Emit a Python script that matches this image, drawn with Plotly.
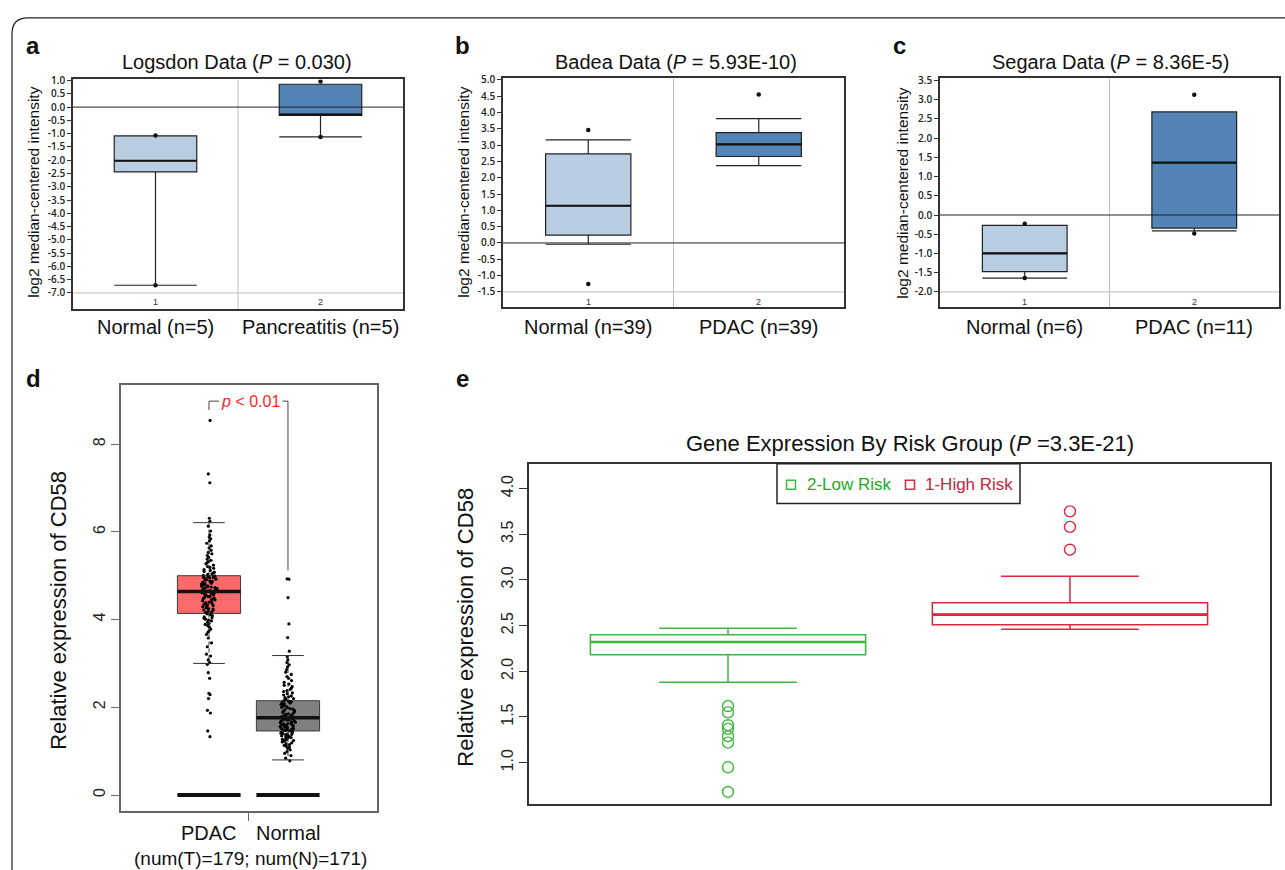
import plotly.graph_objects as go

# ---------------------------------------------------------------- data
# Panel a: Logsdon (Oncomine)
a_labels = ["Normal (n=5)", "Pancreatitis (n=5)"]
a_q1 = [-2.44, -0.31]
a_med = [-2.02, -0.28]
a_q3 = [-1.08, 0.86]
a_low = [-6.71, -1.12]
a_high = [-1.08, 0.86]
a_dots = [[-1.07, -6.71], [0.96, -1.13]]
a_ticks = [1.0, 0.5, 0.0, -0.5, -1.0, -1.5, -2.0, -2.5, -3.0, -3.5, -4.0, -4.5,
           -5.0, -5.5, -6.0, -6.5, -7.0]

# Panel b: Badea (Oncomine)
b_labels = ["Normal (n=39)", "PDAC (n=39)"]
b_q1 = [0.24, 2.65]
b_med = [1.14, 3.02]
b_q3 = [2.73, 3.38]
b_low = [-0.04, 2.37]
b_high = [3.16, 3.81]
b_dots = [[3.46, -1.26], [4.55]]
b_ticks = [5.0, 4.5, 4.0, 3.5, 3.0, 2.5, 2.0, 1.5, 1.0, 0.5, 0.0, -0.5, -1.0, -1.5]

# Panel c: Segara (Oncomine)
c_labels = ["Normal (n=6)", "PDAC (n=11)"]
c_q1 = [-1.47, -0.34]
c_med = [-1.00, 1.36]
c_q3 = [-0.27, 2.68]
c_low = [-1.64, -0.41]
c_high = [-0.27, 2.68]
c_dots = [[-0.23, -1.64], [3.13, -0.48]]
c_ticks = [3.5, 3.0, 2.5, 2.0, 1.5, 1.0, 0.5, 0.0, -0.5, -1.0, -1.5, -2.0]

# Panel d: GEPIA
d_groups = ["PDAC", "Normal"]
d_q1 = [4.14, 1.46]
d_med = [4.64, 1.76]
d_q3 = [5.00, 2.15]
d_low = [3.00, 0.80]
d_high = [6.21, 3.18]
d_zero = [0.0, 0.0]
d_ticks = [0, 2, 4, 6, 8]
pdac_expr = [
    4.13, 4.11, 4.09, 4.06, 4.04, 4.03, 4.01, 3.99, 3.97, 3.94, 3.91, 3.89, 3.86,
    3.83, 3.78, 3.74, 3.71, 3.66, 3.58, 3.47, 3.38, 3.21, 3.17, 3.08, 3.02, 2.98,
    2.79, 2.66, 2.32, 2.29, 2.20, 1.93, 1.87, 1.46, 1.33,
    4.16, 4.17, 4.19, 4.21, 4.22, 4.24, 4.25, 4.27, 4.29, 4.30, 4.32, 4.33, 4.35,
    4.37, 4.38, 4.40, 4.41, 4.43, 4.45, 4.46, 4.48, 4.49, 4.50, 4.52, 4.53, 4.55,
    4.56, 4.58, 4.59, 4.60, 4.61, 4.62,
    4.64, 4.65, 4.66, 4.67, 4.68, 4.69, 4.70, 4.71, 4.72, 4.73, 4.74, 4.75, 4.76,
    4.77, 4.78, 4.79, 4.80, 4.81, 4.82, 4.83, 4.85, 4.86, 4.87, 4.88, 4.90, 4.91,
    4.92, 4.94, 4.95, 4.96, 4.97, 4.98, 4.99,
    5.01, 5.03, 5.04, 5.06, 5.08, 5.10, 5.12, 5.14, 5.17, 5.19, 5.21, 5.24, 5.27,
    5.30, 5.32, 5.35, 5.38, 5.42, 5.46, 5.50, 5.53, 5.58, 5.63, 5.68, 5.74, 5.79,
    5.84, 5.88, 5.93, 6.02, 6.13, 6.24, 6.31, 7.12, 7.32, 8.54,
]
normal_expr = [
    0.78, 0.84, 0.90, 0.95, 0.99, 1.03, 1.06, 1.09, 1.11, 1.13, 1.15, 1.17, 1.19,
    1.21, 1.23, 1.24, 1.26, 1.27, 1.29, 1.30, 1.31, 1.33, 1.34, 1.35, 1.36, 1.37,
    1.38, 1.39, 1.40, 1.41, 1.42, 1.43, 1.44,
    1.46, 1.47, 1.48, 1.49, 1.50, 1.51, 1.52, 1.53, 1.54, 1.55, 1.56, 1.57, 1.58,
    1.59, 1.60, 1.61, 1.62, 1.63, 1.64, 1.65, 1.66, 1.67, 1.68, 1.69, 1.70, 1.71,
    1.72, 1.73, 1.74, 1.75,
    1.77, 1.78, 1.79, 1.81, 1.82, 1.84, 1.85, 1.87, 1.88, 1.90, 1.91, 1.93, 1.94,
    1.96, 1.97, 1.99, 2.00, 2.01, 2.03, 2.04, 2.06, 2.07, 2.08, 2.10, 2.11, 2.12,
    2.13, 2.14,
    2.16, 2.18, 2.20, 2.22, 2.24, 2.26, 2.28, 2.31, 2.33, 2.36, 2.38, 2.41, 2.44,
    2.47, 2.50, 2.53, 2.57, 2.61, 2.66, 2.70, 2.75, 2.80, 2.86, 2.92, 2.97, 3.02,
    3.08, 3.15, 3.28, 3.59, 3.90, 4.50, 4.92, 4.93,
]

# Panel e: risk groups
e_groups = ["2-Low Risk", "1-High Risk"]
e_q1 = [2.18, 2.51]
e_med = [2.32, 2.62]
e_q3 = [2.40, 2.75]
e_low = [1.88, 2.46]
e_high = [2.47, 3.04]
e_out = [[1.62, 1.55, 1.41, 1.37, 1.29, 1.22, 0.95, 0.68], [3.75, 3.58, 3.33]]
e_ticks = [1.0, 1.5, 2.0, 2.5, 3.0, 3.5, 4.0]

# ---------------------------------------------------------------- helpers
W, H = 1285, 870


def fx(p):
    return p / W


def fy(p):
    return 1 - p / H


FONT = "Liberation Sans"
TICKFONT = "Open Sans"
annotations = []
shapes = []
layout_axes = {}
fig = go.Figure()


def ann(text, x, y, size, xref="paper", yref="paper", color="#111", angle=0,
        xanchor="center", yanchor="middle"):
    annotations.append(dict(
        text=text, x=x, y=y, xref=xref, yref=yref, showarrow=False,
        font=dict(family=FONT, size=size, color=color), textangle=angle,
        xanchor=xanchor, yanchor=yanchor))


def axnames(k):
    return ("x" if k == 1 else f"x{k}"), ("y" if k == 1 else f"y{k}")


def oncomine(k, labels, q1, med, q3, low, high, dots, ticks, title, box, yrange,
             base, ytitle_x, title_x):
    xa, ya = axnames(k)
    x0, y0, x1, y1 = box
    colors = ["#b8cde1", "#5384b5"]
    bw = 0.5
    for i in range(2):
        fig.add_trace(go.Box(
            x=[i], q1=[q1[i]], median=[med[i]], q3=[q3[i]],
            lowerfence=[low[i]], upperfence=[high[i]], width=bw, whiskerwidth=1,
            fillcolor=colors[i], line=dict(color="#222", width=1.2),
            boxpoints=False, xaxis=xa, yaxis=ya, showlegend=False,
            hoverinfo="skip"))
        fig.add_trace(go.Scatter(
            x=[i - bw / 2, i + bw / 2], y=[med[i], med[i]], mode="lines",
            line=dict(color="#111", width=2.2), xaxis=xa, yaxis=ya,
            showlegend=False, hoverinfo="skip"))
        fig.add_trace(go.Scatter(
            x=[i] * len(dots[i]), y=dots[i], mode="markers",
            marker=dict(color="#111", size=4.5), xaxis=xa, yaxis=ya,
            showlegend=False, hoverinfo="skip"))
        ann(labels[i], i, fy(323), 20, xref=xa)
        ann(str(i + 1), i, fy(298), 9, xref=xa, color="#333")
    sfx = "" if k == 1 else str(k)
    layout_axes["xaxis" + sfx] = dict(
        domain=[fx(x0), fx(x1)], range=[-0.5, 1.5], anchor=ya, showline=True,
        mirror=True, linecolor="#333", linewidth=1.5, showgrid=False,
        zeroline=False, showticklabels=False, ticks="", fixedrange=True)
    layout_axes["yaxis" + sfx] = dict(
        domain=[fy(y1), fy(y0)], range=yrange, anchor=xa, showline=True,
        mirror=True, linecolor="#333", linewidth=1.5, showgrid=False,
        zeroline=False, tickvals=ticks, ticktext=[f"{t:.1f}" for t in ticks],
        ticks="outside", ticklen=4, tickwidth=1, tickcolor="#333",
        tickfont=dict(family=TICKFONT, size=10, color="#222", weight=600))
    # reference lines
    shapes.append(dict(type="line", xref=xa + " domain", yref=ya, x0=0, x1=1,
                       y0=base, y1=base, line=dict(color="#bdbdbd", width=1),
                       layer="below"))
    shapes.append(dict(type="line", xref=xa, yref=ya + " domain", x0=0.5, x1=0.5,
                       y0=0, y1=1, line=dict(color="#bdbdbd", width=1),
                       layer="below"))
    shapes.append(dict(type="line", xref=xa + " domain", yref=ya, x0=0, x1=1,
                       y0=0, y1=0, line=dict(color="#222", width=1)))
    ann(title, fx(title_x), fy(56), 20)
    ann("log2 median-centered intensity", fx(ytitle_x), fy(188), 15.5, angle=-90)


# ---------------------------------------------------------------- panels a-c
oncomine(1, a_labels, a_q1, a_med, a_q3, a_low, a_high, a_dots, a_ticks,
         "Logsdon Data (<i>P</i> = 0.030)", (73, 74, 403, 305), [-7.6, 1.04],
         -7.0, 34, 237)
oncomine(2, b_labels, b_q1, b_med, b_q3, b_low, b_high, b_dots, b_ticks,
         "Badea Data (<i>P</i> = 5.93E-10)", (503, 73, 844, 303), [-1.96, 5.04],
         -1.5, 464, 676)
oncomine(3, c_labels, c_q1, c_med, c_q3, c_low, c_high, c_dots, c_ticks,
         "Segara Data (<i>P</i> = 8.36E-5)", (940, 73, 1279, 303), [-2.39, 3.55],
         -2.0, 903, 1110)

# ---------------------------------------------------------------- panel d
d_fill = ["#fb6a6a", "#808080"]
dbw = 0.8
for i in range(2):
    fig.add_trace(go.Box(
        x=[i], q1=[d_q1[i]], median=[d_med[i]], q3=[d_q3[i]],
        lowerfence=[d_q1[i]], upperfence=[d_q3[i]], width=dbw, whiskerwidth=0,
        fillcolor=d_fill[i], line=dict(color="#3a3a3a", width=1),
        boxpoints=False, xaxis="x4", yaxis="y4", showlegend=False,
        hoverinfo="skip"))
    # dashed whiskers
    fig.add_trace(go.Scatter(
        x=[i, i, None, i, i], y=[d_q3[i], d_high[i], None, d_q1[i], d_low[i]],
        mode="lines", line=dict(color="#333", width=1, dash="4px,3px"),
        xaxis="x4", yaxis="y4", showlegend=False, hoverinfo="skip"))
    # whisker caps
    fig.add_trace(go.Scatter(
        x=[i - dbw / 4, i + dbw / 4, None, i - dbw / 4, i + dbw / 4],
        y=[d_high[i], d_high[i], None, d_low[i], d_low[i]],
        mode="lines", line=dict(color="#333", width=1),
        xaxis="x4", yaxis="y4", showlegend=False, hoverinfo="skip"))
    # median
    fig.add_trace(go.Scatter(
        x=[i - dbw / 2, i + dbw / 2], y=[d_med[i], d_med[i]], mode="lines",
        line=dict(color="#111", width=3.5), xaxis="x4", yaxis="y4",
        showlegend=False, hoverinfo="skip"))
    # zero bars
    fig.add_trace(go.Scatter(
        x=[i - dbw / 2, i + dbw / 2], y=[d_zero[i], d_zero[i]], mode="lines",
        line=dict(color="#111", width=4), xaxis="x4", yaxis="y4",
        showlegend=False, hoverinfo="skip"))
    ann(d_groups[i], i, fy(833), 20, xref="x4")

for i, vals in enumerate([pdac_expr, normal_expr]):
    fig.add_trace(go.Box(
        x=[i] * len(vals), y=vals, boxpoints="all", jitter=0.25, pointpos=0,
        width=dbw, fillcolor="rgba(0,0,0,0)",
        line=dict(color="rgba(0,0,0,0)", width=0),
        marker=dict(color="#000", size=3.2), xaxis="x4", yaxis="y4",
        showlegend=False, hoverinfo="skip"))

layout_axes["xaxis4"] = dict(
    domain=[fx(121), fx(377)], range=[-1.114, 2.127], anchor="y4",
    showline=True, mirror=True, linecolor="#666", linewidth=1.5,
    showgrid=False, zeroline=False, tickvals=[0.5], ticktext=[""],
    ticks="outside", ticklen=8, tickcolor="#666", tickwidth=1.2)
layout_axes["yaxis4"] = dict(
    domain=[fy(811), fy(382)], range=[-0.374, 9.34], anchor="x4",
    showline=True, mirror=True, linecolor="#666", linewidth=1.5,
    showgrid=False, zeroline=False, tickvals=d_ticks,
    ticks="outside", ticklen=8, tickcolor="#666", tickwidth=1.2,
    tickangle=-90, tickfont=dict(family=FONT, size=16, color="#222"))

# significance bracket
br_top, br_left, br_right = 8.98, 8.78, 5.12
for seg in [(0, br_left, 0, br_top), (0, br_top, 0.13, br_top),
            (0.93, br_top, 1, br_top), (1, br_top, 1, br_right)]:
    shapes.append(dict(type="line", xref="x4", yref="y4", x0=seg[0], y0=seg[1],
                       x1=seg[2], y1=seg[3], line=dict(color="#444", width=1)))
ann("<i>p</i> < 0.01", 0.53, br_top, 16, xref="x4", yref="y4", color="#ff1f1f")
ann("(num(T)=179; num(N)=171)", fx(250), fy(858), 19)
ann("Relative expression of CD58", fx(59), fy(609), 22, angle=-90)

# ---------------------------------------------------------------- panel e
e_line = ["#3cb93c", "#d9293a"]
e_text = ["#22aa22", "#c8243f"]
ebw = 0.805
for i in range(2):
    fig.add_trace(go.Box(
        x=[i], q1=[e_q1[i]], median=[e_med[i]], q3=[e_q3[i]],
        lowerfence=[e_low[i]], upperfence=[e_high[i]], width=ebw,
        whiskerwidth=0.5, fillcolor="rgba(255,255,255,0)",
        line=dict(color=e_line[i], width=1.5), boxpoints=False,
        xaxis="x5", yaxis="y5", showlegend=False, hoverinfo="skip"))
    fig.add_trace(go.Scatter(
        x=[i - ebw / 2, i + ebw / 2], y=[e_med[i], e_med[i]],
        mode="lines", line=dict(color=e_line[i], width=2.6),
        xaxis="x5", yaxis="y5", showlegend=False, hoverinfo="skip"))
    fig.add_trace(go.Scatter(
        x=[i] * len(e_out[i]), y=e_out[i], mode="markers",
        marker=dict(symbol="circle-open", size=11, color=e_line[i],
                    line=dict(width=1.4)),
        xaxis="x5", yaxis="y5", showlegend=False, hoverinfo="skip"))

layout_axes["xaxis5"] = dict(
    domain=[fx(529), fx(1270)], range=[-0.582, 1.585], anchor="y5",
    showline=True, mirror=True, linecolor="#333", linewidth=2,
    showgrid=False, zeroline=False, showticklabels=False, ticks="")
layout_axes["yaxis5"] = dict(
    domain=[fy(804), fy(461)], range=[0.543, 4.27], anchor="x5",
    showline=True, mirror=True, linecolor="#333", linewidth=2,
    showgrid=False, zeroline=False, tickvals=e_ticks,
    tickformat=".1f", ticks="outside", ticklen=8, tickcolor="#333",
    tickwidth=1.2, tickangle=-90,
    tickfont=dict(family=FONT, size=16, color="#222"))

ann("Gene Expression By Risk Group (<i>P</i> =3.3E-21)", fx(910), fy(441), 22)
ann("Relative expression of CD58", fx(466), fy(626), 22, angle=-90)

# legend box
shapes.append(dict(type="rect", xref="paper", yref="paper", x0=fx(777),
                   x1=fx(1020), y0=fy(501), y1=fy(461),
                   line=dict(color="#222", width=1.5), fillcolor="white"))
leg_icon_x = [791, 910]
leg_text_x = [805, 923]
for i in range(2):
    shapes.append(dict(type="rect", xref="paper", yref="paper",
                       x0=fx(leg_icon_x[i] - 4.5), x1=fx(leg_icon_x[i] + 4.5),
                       y0=fy(486.5), y1=fy(477.5),
                       line=dict(color=e_line[i], width=1.5)))
    ann(e_groups[i], fx(leg_text_x[i]), fy(482), 17, color=e_text[i],
        xanchor="left")

# ---------------------------------------------------------------- frame & letters
shapes.append(dict(
    type="path", xref="paper", yref="paper",
    path=f"M {fx(12)},{fy(880)} L {fx(12)},{fy(28)} Q {fx(12)},{fy(12)} {fx(28)},{fy(12)} L {fx(1290)},{fy(12)}",
    line=dict(color="#222", width=1.2)))
for letter, x, y in [("a", 33, 40), ("b", 462, 40), ("c", 899, 40),
                     ("d", 33, 375), ("e", 462, 375)]:
    ann(f"<b>{letter}</b>", fx(x), fy(y), 24, color="#111")

fig.update_layout(
    width=W, height=H, margin=dict(l=0, r=0, t=0, b=0),
    paper_bgcolor="white", plot_bgcolor="white", showlegend=False,
    hovermode=False, boxmode="overlay", annotations=annotations, shapes=shapes,
    font=dict(family=FONT, color="#111"), **layout_axes)

fig.write_html("out.html", config={"displayModeBar": False},
               post_script="document.body.style.margin='0px';document.body.style.overflow='hidden';")
